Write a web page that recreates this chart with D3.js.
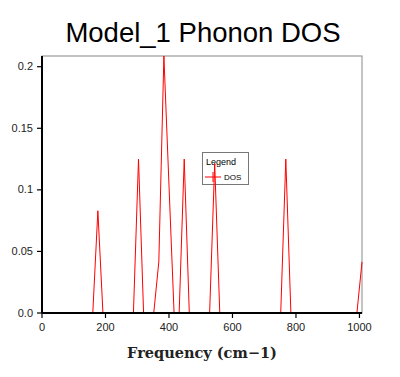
<!DOCTYPE html>
<html>
<head>
<meta charset="utf-8">
<script src="https://cdn.jsdelivr.net/npm/d3@7"></script>
<style>
  body { margin: 0; background: #fff; }
  svg { display: block; }
</style>
</head>
<body>
<svg class="chart"></svg>
<script>
// DOS values (frequency in cm-1)
var freq = [0, 160, 176, 192, 288, 304, 320, 352, 368, 384, 400, 416, 432, 448, 464, 528, 544, 560, 752, 768, 784, 992, 1008];
var dos  = [0, 0, 0.083, 0, 0, 0.125, 0, 0, 0.0415, 0.2087, 0.104, 0, 0, 0.125, 0, 0, 0.1215, 0, 0, 0.125, 0, 0, 0.0415];
var xTicks = [0, 200, 400, 600, 800, 1000];
var yTicks = [0, 0.05, 0.1, 0.15, 0.2];
var yTickLabels = ["0.0", "0.05", "0.1", "0.15", "0.2"];

var width = 400, height = 377;
var margin = { top: 56, right: 38, bottom: 64, left: 42 };

var svg = d3.select(".chart")
  .attr("width", width)
  .attr("height", height);

var x = d3.scaleLinear().domain([0, 1008]).range([margin.left, width - margin.right]);
var y = d3.scaleLinear().domain([0, 0.2087]).range([height - margin.bottom, margin.top]);

var data = freq.map(function(f, i) { return { f: f, v: dos[i] }; });

// title
svg.append("text")
  .attr("x", 203)
  .attr("y", 42)
  .attr("text-anchor", "middle")
  .style("font-family", "Liberation Sans, Arial, sans-serif")
  .style("font-size", "27.5px")
  .text("Model_1 Phonon DOS");

// frame (top / right)
svg.append("rect")
  .attr("x", x(0))
  .attr("y", y(0.2087))
  .attr("width", x(1008) - x(0))
  .attr("height", y(0) - y(0.2087))
  .attr("fill", "none")
  .attr("stroke", "#888")
  .attr("stroke-width", 1);

// legend box (transparent, line goes over it)
var lg = svg.append("g").attr("transform", "translate(202,152)");
lg.append("rect")
  .attr("x", 0.5).attr("y", 0.5)
  .attr("width", 46).attr("height", 32)
  .attr("fill", "none")
  .attr("stroke", "#777");
lg.append("text")
  .attr("x", 4).attr("y", 13)
  .style("font-family", "Liberation Sans, Arial, sans-serif")
  .style("font-size", "9px")
  .text("Legend");
lg.append("line")
  .attr("x1", 3).attr("x2", 19).attr("y1", 25).attr("y2", 25)
  .attr("stroke", "red");
lg.append("line")
  .attr("x1", 11).attr("x2", 11).attr("y1", 20).attr("y2", 30)
  .attr("stroke", "red");
lg.append("text")
  .attr("x", 22).attr("y", 28)
  .style("font-family", "Liberation Sans, Arial, sans-serif")
  .style("font-size", "8px")
  .text("DOS");

// the DOS line
var line = d3.line()
  .x(function(d) { return x(d.f); })
  .y(function(d) { return y(d.v); });

svg.append("path")
  .datum(data)
  .attr("fill", "none")
  .attr("stroke", "red")
  .attr("stroke-width", 1)
  .attr("d", line);

// axes (drawn on top so the zero part of the line is hidden)
var xAxis = svg.append("g")
  .attr("transform", "translate(0," + y(0) + ")")
  .call(d3.axisBottom(x).tickValues(xTicks).tickSize(5).tickPadding(5).tickSizeOuter(0)
    .offset(0).tickFormat(d3.format("d")));

var yAxis = svg.append("g")
  .attr("transform", "translate(" + x(0) + ",0)")
  .call(d3.axisLeft(y).tickValues(yTicks).tickSize(5).tickPadding(4).tickSizeOuter(0)
    .offset(0).tickFormat(function(d, i) { return yTickLabels[i]; }));

[xAxis, yAxis].forEach(function(a) {
  a.select(".domain").attr("stroke", "#000").attr("stroke-width", 2);
  a.selectAll(".tick line").attr("stroke", "#000").attr("stroke-width", 1.2);
  a.selectAll(".tick text")
    .attr("fill", "#222")
    .style("font-family", "Liberation Sans, Arial, sans-serif")
    .style("font-size", "11px");
});

// x label
svg.append("text")
  .attr("x", 202)
  .attr("y", 358)
  .attr("text-anchor", "middle")
  .style("font-family", "DejaVu Serif, serif")
  .style("font-size", "14.5px")
  .style("font-weight", "bold")
  .attr("fill", "#222")
  .text("Frequency (cm\u22121)");
</script>
</body>
</html>
